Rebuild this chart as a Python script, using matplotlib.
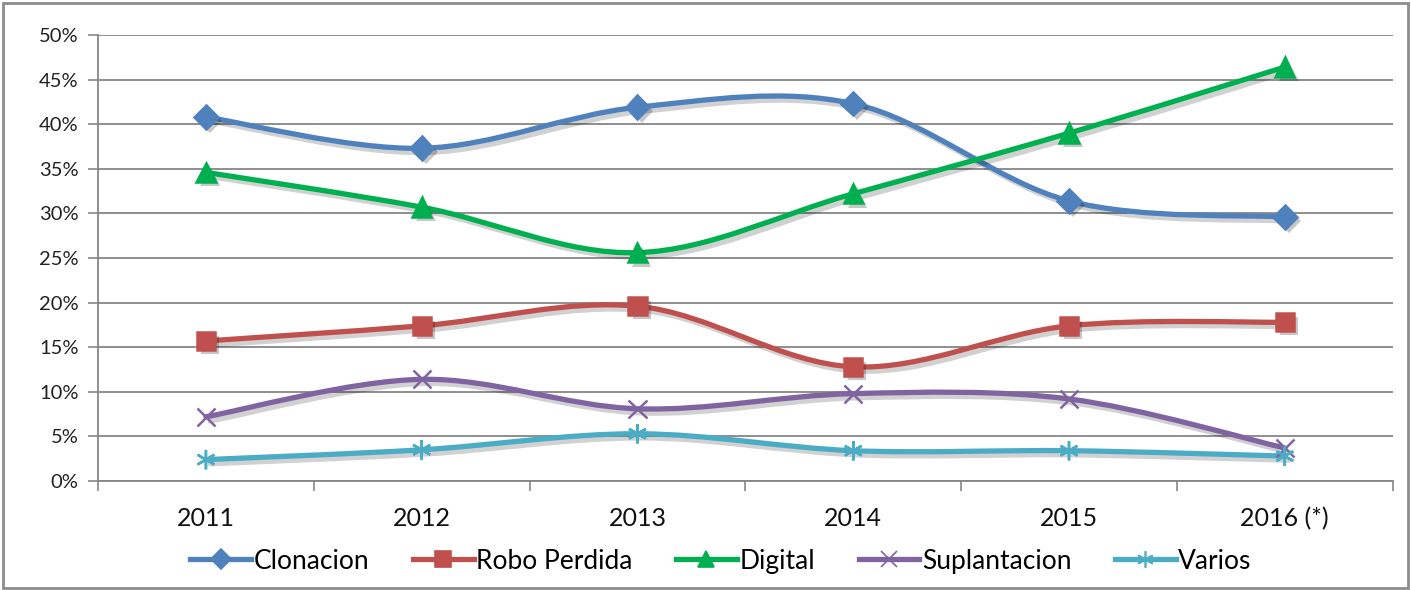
import numpy as np
import matplotlib
matplotlib.use("Agg")
import matplotlib.pyplot as plt
import matplotlib.patheffects as pe
from matplotlib.path import Path
from matplotlib.patches import PathPatch, Rectangle
from matplotlib.lines import Line2D

plt.rcParams['font.family'] = ['Lato', 'DejaVu Sans']

years = ['2011', '2012', '2013', '2014', '2015', '2016 (*)']
clonacion = [40.8, 37.3, 41.9, 42.3, 31.4, 29.6]
robo_perdida = [15.7, 17.4, 19.6, 12.8, 17.4, 17.8]
digital = [34.6, 30.7, 25.6, 32.2, 39.0, 46.4]
suplantacion = [7.2, 11.4, 8.1, 9.8, 9.2, 3.7]
varios = [2.4, 3.5, 5.3, 3.4, 3.4, 2.8]

series = [
    ('Clonacion', clonacion, '#4F81BD', 'D', 12),
    ('Robo Perdida', robo_perdida, '#C0504D', 's', 13),
    ('Digital', digital, '#00B050', '^', 14),
    ('Suplantacion', suplantacion, '#8064A2', 'x', 13),
    ('Varios', varios, '#4BACC6', (6, 2, 0), 14),
]


def smooth_path(xs, ys):
    # excel-like smoothed line: cubic bezier, control points from neighbours
    pts = np.column_stack([xs, ys]).astype(float)
    n = len(pts)
    verts = [pts[0]]
    codes = [Path.MOVETO]
    for i in range(n - 1):
        p0 = pts[max(i - 1, 0)]
        p1 = pts[i]
        p2 = pts[i + 1]
        p3 = pts[min(i + 2, n - 1)]
        c1 = p1 + (p2 - p0) / 6.0
        c2 = p2 - (p3 - p1) / 6.0
        verts += [c1, c2, p2]
        codes += [Path.CURVE4] * 3
    return Path(verts, codes)


fig = plt.figure(figsize=(14.11, 5.9), dpi=100)
ax = fig.add_axes([0.0695, 0.1847, 0.9175, 0.756])

x = np.arange(len(years))
line_fx = [pe.SimpleLineShadow(offset=(3, -3), alpha=0.18, shadow_color='k'), pe.Normal()]
mark_fx = [pe.SimplePatchShadow(offset=(3, -3), alpha=0.22, shadow_rgbFace='k'), pe.Normal()]

handles = []
for name, vals, color, marker, ms in series:
    patch = PathPatch(smooth_path(x, vals), facecolor='none', edgecolor=color,
                      lw=3.8, capstyle='round', joinstyle='round', zorder=3)
    patch.set_path_effects(line_fx)
    ax.add_patch(patch)
    ax.plot(x, vals, linestyle='none', marker=marker, markersize=ms, color=color,
            markeredgecolor=color, markeredgewidth=1.8, zorder=4, path_effects=mark_fx)
    handles.append(Line2D([], [], color=color, lw=3.8, marker=marker, markersize=ms * 0.85,
                          markeredgewidth=1.2, label=name))

ax.set_xlim(-0.5, len(years) - 0.5)
ax.set_ylim(0, 50)
ax.set_yticks(np.arange(0, 51, 5))
ax.set_yticklabels([f'{v}%' for v in range(0, 51, 5)], fontsize=14.5, color='#222222')
ax.set_xticks(x)
ax.set_xticklabels(years, fontsize=18, color='#111111')
ax.set_xticks(np.arange(-0.5, len(years), 1.0), minor=True)
ax.tick_params(axis='x', which='major', length=0, pad=19)
ax.tick_params(axis='x', which='minor', length=7, color='#868686', width=1.2, direction='out')
ax.tick_params(axis='y', length=7, color='#868686', width=1.2, direction='out', pad=7)

ax.grid(axis='y', color='#868686', lw=1.3)
ax.set_axisbelow(True)
for s in ['top', 'right']:
    ax.spines[s].set_visible(False)
ax.spines['left'].set_color('#868686')
ax.spines['left'].set_linewidth(1.3)
ax.spines['bottom'].set_color('#868686')
ax.spines['bottom'].set_linewidth(1.3)

fig.legend(handles=handles, loc='center', bbox_to_anchor=(0.511, 0.049), ncol=5, frameon=False,
           fontsize=19, handlelength=2.3, handletextpad=0.1, columnspacing=1.65)

fig.patches.append(Rectangle((0.002, 0.003), 0.996, 0.992, transform=fig.transFigure,
                             fill=False, edgecolor='#8c8c8c', lw=2))

fig.savefig('out.png', dpi=100)
